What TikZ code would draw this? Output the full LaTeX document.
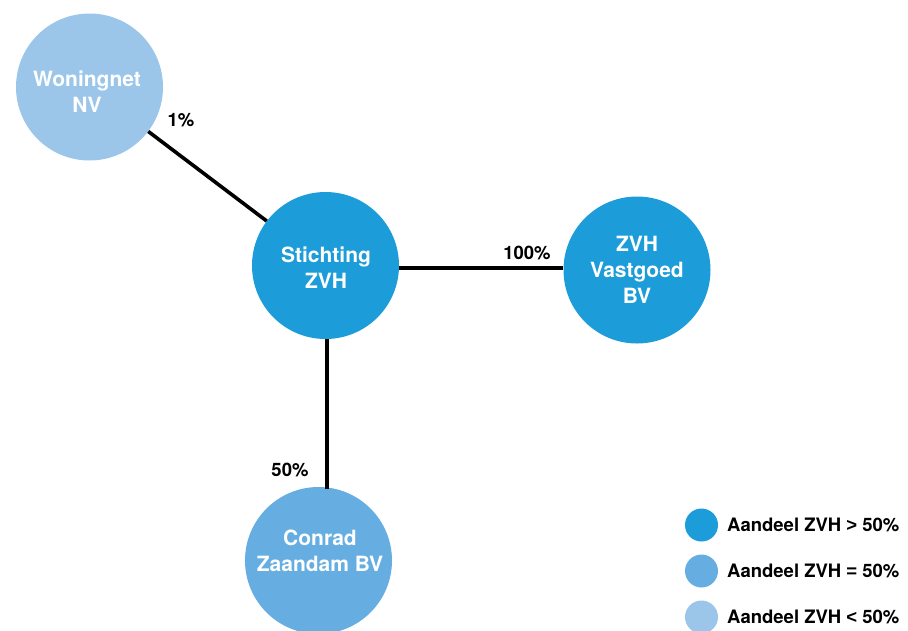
\documentclass[tikz,border=0pt]{standalone}
\usepackage{fontspec}
\setmainfont{TeX Gyre Heros}
\newfontfamily\symfont{Liberation Sans}
\definecolor{cdark}{RGB}{28,157,217}
\definecolor{cmid}{RGB}{102,174,225}
\definecolor{clight}{RGB}{155,198,234}
\begin{document}
\begin{tikzpicture}[x=1pt,y=-1pt,
  ent/.style={circle,minimum size=147pt,inner sep=0pt},
  enttext/.style={text=white,font=\fontsize{21}{26}\selectfont\bfseries,align=center,inner sep=0pt},
  pct/.style={font=\fontsize{18.5}{22}\selectfont\bfseries,inner sep=0pt},
  link/.style={line width=3.6pt,black},
  legdot/.style={circle,minimum size=33pt,inner sep=0pt},
  legtext/.style={font=\fontsize{18.5}{22}\selectfont\bfseries,anchor=west,inner sep=0pt}]
\useasboundingbox (0,0) rectangle (908,630);
\clip (0,0) rectangle (908,630);
% entities
\node[ent,fill=clight] (won) at (89.5,87) {};
\node[ent,fill=cdark] (sti) at (325.5,265.5) {};
\node[ent,fill=cdark] (vas) at (637,270) {};
\node[ent,fill=cmid] (con) at (318.5,560.5) {};
\node[enttext] (wont) at (87,92) {Woningnet\\NV};
\node[enttext] (stit) at (326,268) {Stichting\\ZVH};
\node[enttext] (vast) at (637,270) {ZVH\\Vastgoed\\BV};
\node[enttext] (cont) at (320,551) {Conrad\\Zaandam BV};
% connectors
\draw[link] (won) -- (sti);
\coordinate (hend) at (vas.west |- 0,268);
\coordinate (hstart) at (sti.east |- 0,268);
\draw[link] (hstart) -- (hend);
\coordinate (vstart) at (327,339);
\coordinate (vend) at (327,489);
\draw[link] (vstart) -- (vend);
% labels
\node[pct] (p1) at (181,120) {1\%};
\node[pct] (p100) at (527,253) {100\%};
\node[pct] (p50) at (290,470) {50\%};
% legend
\node[legdot,fill=cdark] (l1) at (701.5,525) {};
\node[legdot,fill=cmid] (l2) at (701.5,571) {};
\node[legdot,fill=clight] (l3) at (701.5,617) {};
\node[legtext] (lt1) at (727,525) {Aandeel ZVH {\symfont\bfseries >} 50\%};
\node[legtext] (lt2) at (727,571) {Aandeel ZVH {\symfont\bfseries =} 50\%};
\node[legtext] (lt3) at (727,617) {Aandeel ZVH {\symfont\bfseries <} 50\%};
\end{tikzpicture}
\end{document}
